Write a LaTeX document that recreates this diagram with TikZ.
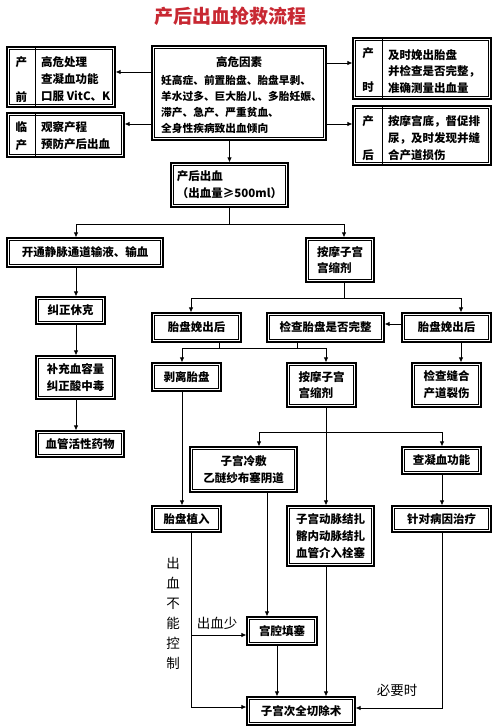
\documentclass[tikz,border=0pt]{standalone}
\usepackage{fontspec}
\setmainfont{Noto Sans CJK SC}
\usetikzlibrary{arrows.meta,calc}
\definecolor{titlered}{RGB}{200,40,50}
\newcommand\boxfont{\fontsize{11.5}{16.8}\selectfont\bfseries}
\newcommand\labfont{\fontsize{13.5}{20}\selectfont}
\tikzset{
  bx/.style={draw, line width=1.2pt, inner sep=0pt, align=center, font=\boxfont,
    path picture={\draw[line width=0.5pt]
      ([shift={(2.6pt,-2.6pt)}]path picture bounding box.north west) rectangle
      ([shift={(-2.6pt,2.6pt)}]path picture bounding box.south east);}},
  tx/.style={font=\boxfont, inner sep=0pt},
  lab/.style={font=\labfont, inner sep=0pt},
  ln/.style={line width=0.8pt},
  ar/.style={line width=0.8pt, -{Latex[length=5pt,width=4.5pt]}},
  div/.style={line width=0.6pt},
}
\begin{document}
\begin{tikzpicture}[x=1pt,y=-1pt]
\useasboundingbox[fill=white] (0,0) rectangle (497,727);
% title
\node[inner sep=0pt, text=titlered, font=\fontsize{19}{19}\selectfont\bfseries] (title) at (230,16) {产后出血抢救流程};

% top boxes
\node[bx, minimum width=108pt, minimum height=60pt] (pre) at (61,77) {};
\draw[div] ($(pre.north west)+(29pt,0)$) -- ($(pre.south west)+(29pt,0)$);
\node[tx] (preA) at (21.5,62) {产};
\node[tx] (preB) at (21.5,97) {前};
\node[tx, anchor=west, align=left] (preT) at (41,79) {高危处理\\查凝血功能\\口服 VitC、K};

\node[bx, minimum width=117pt, minimum height=44pt] (lin) at (65.5,135) {};
\draw[div] ($(lin.north west)+(29pt,0)$) -- ($(lin.south west)+(29pt,0)$);
\node[tx] (linA) at (21.5,127) {临};
\node[tx] (linB) at (21.5,145) {产};
\node[tx, anchor=west, align=left] (linT) at (41,136) {观察产程\\预防产后出血};

\node[bx, minimum width=174pt, minimum height=94pt] (risk) at (239,93) {};
\node[tx] (riskH) at (239,62) {高危因素};
\node[tx, anchor=west, align=left, font=\fontsize{10.7}{16.2}\selectfont\bfseries] (riskT) at (161,104.5)
  {妊高症、前置胎盘、胎盘早剥、\\羊水过多、巨大胎儿、多胎妊娠、\\滞产、急产、严重贫血、\\全身性疾病致出血倾向};

\node[bx, minimum width=138pt, minimum height=61pt] (shi) at (422,68.5) {};
\draw[div] ($(shi.north west)+(30pt,0)$) -- ($(shi.south west)+(30pt,0)$);
\node[tx] (shiA) at (368,53) {产};
\node[tx] (shiB) at (368,87) {时};
\node[tx, anchor=west, align=left] (shiT) at (388,71.5) {及时娩出胎盘\\并检查是否完整，\\准确测量出血量};

\node[bx, minimum width=138pt, minimum height=59pt] (hou) at (422,135.5) {};
\draw[div] ($(hou.north west)+(30pt,0)$) -- ($(hou.south west)+(30pt,0)$);
\node[tx] (houA) at (368,121) {产};
\node[tx] (houB) at (368,155) {后};
\node[tx, anchor=west, align=left] (houT) at (388,138) {按摩宫底，督促排\\尿，及时发现并缝\\合产道损伤};

% main flow boxes
\node[bx, align=left, minimum width=117pt, minimum height=44pt] (pph) at (229.5,185) {产后出血\\（出血量≥500ml）};
\node[bx, minimum width=156pt, minimum height=29pt] (iv) at (85,252.5) {开通静脉通道输液、输血};
\node[bx, align=left, minimum width=68pt, minimum height=44pt] (mas1) at (340,260) {按摩子宫\\宫缩剂};
\node[bx, minimum width=69pt, minimum height=27pt] (shock) at (70.5,310.5) {纠正休克};
\node[bx, minimum width=79pt, minimum height=43pt] (vol) at (75.5,377.5) {补充血容量\\纠正酸中毒};
\node[bx, minimum width=88pt, minimum height=26pt] (vaso) at (80,444) {血管活性药物};
\node[bx, minimum width=89pt, minimum height=29pt] (pl1) at (196.5,327.5) {胎盘娩出后};
\node[bx, minimum width=117pt, minimum height=29pt] (chk) at (325.5,327.5) {检查胎盘是否完整};
\node[bx, minimum width=89pt, minimum height=29pt] (pl2) at (446.5,327.5) {胎盘娩出后};
\node[bx, minimum width=69pt, minimum height=28pt] (peel) at (186.5,377) {剥离胎盘};
\node[bx, align=left, minimum width=69pt, minimum height=44pt] (mas2) at (321.5,385) {按摩子宫\\宫缩剂};
\node[bx, minimum width=69pt, minimum height=44pt] (suture) at (446.5,385) {检查缝合\\产道裂伤};
\node[bx, minimum width=107pt, minimum height=45pt] (cold) at (243.5,469.5) {子宫冷敷\\乙醚纱布塞阴道};
\node[bx, minimum width=79pt, minimum height=27pt] (coag) at (441.5,460.5) {查凝血功能};
\node[bx, minimum width=69pt, minimum height=26pt] (accreta) at (186.5,519) {胎盘植入};
\node[bx, minimum width=87pt, minimum height=60pt] (ligate) at (330.5,536) {子宫动脉结扎\\髂内动脉结扎\\血管介入栓塞};
\node[bx, minimum width=99pt, minimum height=26pt] (cause) at (441.5,519) {针对病因治疗};
\node[bx, minimum width=70pt, minimum height=28pt] (pack) at (282,631) {宫腔填塞};
\node[bx, minimum width=108pt, minimum height=28pt] (hyst) at (301,711) {子宫次全切除术};

% labels
\node[lab, align=center] (ctl) at (173,613) {出\\血\\不\\能\\控\\制};
\node[lab] (less) at (217,623) {出血少};
\node[lab] (need) at (397,690) {必要时};

% connectors from risk box
\draw[ar] (risk.west |- 0,72) -- (pre.east |- 0,72);
\draw[ar] (risk.west |- 0,124) -- (lin.east |- 0,124);
\draw[ar] (risk.east |- 0,63) -- (shi.west |- 0,63);
\draw[ar] (risk.east |- 0,124) -- (hou.west |- 0,124);
\draw[ar] (risk.south -| pph.north) -- (pph.north);

% pph split
\coordinate (j1) at (229.5,224);
\draw[ln] (pph.south) -- (j1);
\draw[ar] (j1) -| (iv.north -| 76,0);
\draw[ar] (j1) -| (mas1.north -| 344,0);

% left column
\draw[ar] (iv.south -| 76,0) -- (shock.north -| 76,0);
\draw[ar] (shock.south -| 76,0) -- (vol.north -| 76,0);
\draw[ar] (vol.south -| 76,0) -- (vaso.north -| 76,0);

% mas1 split
\coordinate (j2) at (344,298);
\draw[ln] (mas1.south -| 344,0) -- (j2);
\draw[ar] (j2) -| (pl1.north -| 191,0);
\draw[ar] (j2) -| (pl2.north -| 461,0);
\draw[ar] (pl2.west |- 0,324) -- (chk.east |- 0,324);

% placenta merge
\coordinate (j3) at (219,348);
\coordinate (j4) at (297,348);
\draw[ln] (pl1.south -| 219,0) -- (j3);
\draw[ln] (chk.south -| 297,0) -- (j4);
\draw[ar] (j4) -| (peel.north -| 182,0);
\draw[ar] (j3) -| (mas2.north -| 326,0);
\draw[ar] (pl2.south -| 461,0) -- (suture.north -| 461,0);

% mas2 branches
\coordinate (j5) at (326,432);
\draw[ar] (mas2.south -| 326,0) -- (ligate.north -| 326,0);
\draw[ar] (j5) -| (cold.north -| 259,0);
\draw[ar] (j5) -| (coag.north -| 442,0);
\draw[ar] (peel.south -| 182,0) -- (accreta.north -| 182,0);
\draw[ar] (coag.south -| 442,0) -- (cause.north -| 442,0);

% bottom
\draw[ar] (cold.south -| 267,0) -- (pack.north -| 267,0);
\draw[ar] (accreta.south -| 191,0) |- (hyst.west |- 0,707);
\draw[ar] (191,635) -- (pack.west |- 0,635);
\draw[ar] (pack.south -| 277,0) -- (hyst.north -| 277,0);
\draw[ar] (ligate.south -| 326,0) -- (hyst.north -| 326,0);
\draw[ar] (cause.south -| 442,0) |- (hyst.east |- 0,708);
\end{tikzpicture}
\end{document}
